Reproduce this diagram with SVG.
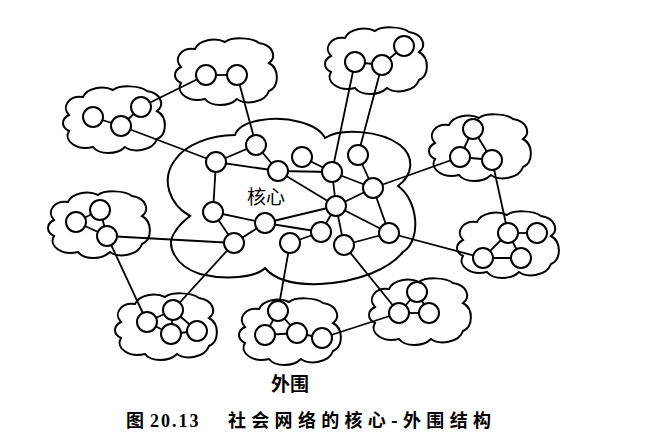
<svg xmlns="http://www.w3.org/2000/svg" xmlns:xlink="http://www.w3.org/1999/xlink" width="663" height="446" viewBox="0 0 663 446">
<style>
.cl{fill:none;stroke:#000;stroke-width:2}
.ed line{stroke:#000;stroke-width:1.8}
.nd{fill:#fff;stroke:#000;stroke-width:2}
.lb{font-family:"Noto Sans CJK SC","Noto Sans",sans-serif;font-size:19px;fill:#000;text-anchor:middle}
.cap{font-family:"Noto Sans CJK SC","Noto Sans",sans-serif;font-size:18px;font-weight:700;fill:#000}
</style>
<defs>
<path id="cloud" d="M 8,30 C 0,22 8,10 22,12 C 26,3 42,0 52,5 C 58,0 78,0 86,6 C 100,8 104,20 96,26 C 107,32 106,50 96,54 C 92,66 72,68 64,62 C 56,70 38,70 32,62 C 16,66 2,56 8,46 C 0,42 0,34 8,30 Z"/>
</defs>
<rect width="663" height="446" fill="#fff"/>
<g id="clouds">
<path id="core" class="cl" d="M 235,135 C 240,120 275,115 300,122 C 315,126 322,132 325,138 C 340,128 380,130 400,145 C 415,157 413,175 398,186 C 418,200 422,240 403,252 C 390,268 360,282 320,284 C 295,285 275,280 265,268 C 255,278 225,280 200,274 C 175,266 165,245 175,232 C 178,226 185,220 190,216 C 170,205 160,180 175,160 C 185,145 210,135 235,135 Z"/>
<use id="cloudA" class="cl" href="#cloud" transform="translate(61,85)"/>
<use id="cloudB" class="cl" href="#cloud" transform="translate(173,37)"/>
<use id="cloudT" class="cl" href="#cloud" transform="translate(323,26)"/>
<use id="cloudC" class="cl" href="#cloud" transform="translate(427,113)"/>
<use id="cloudD" class="cl" href="#cloud" transform="translate(455,210)"/>
<use id="cloudE" class="cl" href="#cloud" transform="translate(46,190)"/>
<use id="cloudF" class="cl" href="#cloud" transform="translate(113,292)"/>
<use id="cloudG" class="cl" href="#cloud" transform="translate(237,297)"/>
<use id="cloudH" class="cl" href="#cloud" transform="translate(367,277)"/>
</g>
<g id="connectors" class="ed">
<line x1="216" y1="162" x2="256" y2="145"/>
<line x1="216" y1="162" x2="278" y2="171"/>
<line x1="256" y1="145" x2="278" y2="171"/>
<line x1="302" y1="157" x2="332" y2="172"/>
<line x1="278" y1="171" x2="332" y2="172"/>
<line x1="278" y1="171" x2="336" y2="206"/>
<line x1="332" y1="172" x2="373" y2="188"/>
<line x1="358" y1="155" x2="373" y2="188"/>
<line x1="332" y1="172" x2="336" y2="206"/>
<line x1="373" y1="188" x2="336" y2="206"/>
<line x1="373" y1="188" x2="389" y2="233"/>
<line x1="336" y1="206" x2="389" y2="233"/>
<line x1="336" y1="206" x2="321" y2="232"/>
<line x1="336" y1="206" x2="344" y2="245"/>
<line x1="336" y1="206" x2="265" y2="223"/>
<line x1="344" y1="245" x2="389" y2="233"/>
<line x1="265" y1="223" x2="321" y2="232"/>
<line x1="290" y1="243" x2="321" y2="232"/>
<line x1="216" y1="162" x2="213" y2="212"/>
<line x1="213" y1="212" x2="265" y2="223"/>
<line x1="213" y1="212" x2="234" y2="243"/>
<line x1="234" y1="243" x2="265" y2="223"/>
<line x1="93" y1="117" x2="121" y2="126"/>
<line x1="121" y1="126" x2="141" y2="107"/>
<line x1="141" y1="107" x2="206" y2="75"/>
<line x1="121" y1="126" x2="216" y2="162"/>
<line x1="206" y1="75" x2="237" y2="75"/>
<line x1="237" y1="75" x2="256" y2="145"/>
<line x1="355" y1="62" x2="382" y2="65"/>
<line x1="382" y1="65" x2="404" y2="46"/>
<line x1="355" y1="62" x2="332" y2="172"/>
<line x1="382" y1="65" x2="358" y2="155"/>
<line x1="473" y1="129" x2="460" y2="157"/>
<line x1="473" y1="129" x2="492" y2="160"/>
<line x1="460" y1="157" x2="492" y2="160"/>
<line x1="460" y1="157" x2="373" y2="188"/>
<line x1="492" y1="160" x2="508" y2="233"/>
<line x1="508" y1="233" x2="537" y2="233"/>
<line x1="508" y1="233" x2="483" y2="258"/>
<line x1="508" y1="233" x2="521" y2="258"/>
<line x1="483" y1="258" x2="521" y2="258"/>
<line x1="483" y1="258" x2="389" y2="233"/>
<line x1="76" y1="222" x2="107" y2="236"/>
<line x1="100" y1="210" x2="107" y2="236"/>
<line x1="76" y1="222" x2="100" y2="210"/>
<line x1="107" y1="236" x2="234" y2="243"/>
<line x1="107" y1="236" x2="147" y2="322"/>
<line x1="147" y1="322" x2="173" y2="310"/>
<line x1="147" y1="322" x2="171" y2="334"/>
<line x1="173" y1="310" x2="171" y2="334"/>
<line x1="173" y1="310" x2="197" y2="331"/>
<line x1="171" y1="334" x2="197" y2="331"/>
<line x1="173" y1="310" x2="234" y2="243"/>
<line x1="278" y1="311" x2="265" y2="335"/>
<line x1="278" y1="311" x2="297" y2="333"/>
<line x1="265" y1="335" x2="297" y2="333"/>
<line x1="297" y1="333" x2="322" y2="338"/>
<line x1="278" y1="311" x2="290" y2="243"/>
<line x1="322" y1="338" x2="399" y2="313"/>
<line x1="417" y1="292" x2="399" y2="313"/>
<line x1="417" y1="292" x2="429" y2="313"/>
<line x1="399" y1="313" x2="429" y2="313"/>
<line x1="399" y1="313" x2="344" y2="245"/>
</g>
<g id="core-nodes">
<circle id="n1" class="nd" cx="216" cy="162" r="10"/>
<circle id="n2" class="nd" cx="256" cy="145" r="10"/>
<circle id="n3" class="nd" cx="278" cy="171" r="10"/>
<circle id="n4" class="nd" cx="302" cy="157" r="10"/>
<circle id="n5" class="nd" cx="332" cy="172" r="10"/>
<circle id="n6" class="nd" cx="358" cy="155" r="10"/>
<circle id="n7" class="nd" cx="373" cy="188" r="10"/>
<circle id="n8" class="nd" cx="336" cy="206" r="10"/>
<circle id="n9" class="nd" cx="213" cy="212" r="10"/>
<circle id="n10" class="nd" cx="265" cy="223" r="10"/>
<circle id="n11" class="nd" cx="234" cy="243" r="10"/>
<circle id="n12" class="nd" cx="290" cy="243" r="10"/>
<circle id="n13" class="nd" cx="321" cy="232" r="10"/>
<circle id="n14" class="nd" cx="344" cy="245" r="10"/>
<circle id="n15" class="nd" cx="389" cy="233" r="10"/>
</g>
<g id="peri-nodes">
<circle id="a1" class="nd" cx="93" cy="117" r="10"/>
<circle id="a2" class="nd" cx="121" cy="126" r="10"/>
<circle id="a3" class="nd" cx="141" cy="107" r="10"/>
<circle id="b1" class="nd" cx="206" cy="75" r="10"/>
<circle id="b2" class="nd" cx="237" cy="75" r="10"/>
<circle id="t1" class="nd" cx="355" cy="62" r="10"/>
<circle id="t2" class="nd" cx="382" cy="65" r="10"/>
<circle id="t3" class="nd" cx="404" cy="46" r="10"/>
<circle id="c1" class="nd" cx="473" cy="129" r="10"/>
<circle id="c2" class="nd" cx="460" cy="157" r="10"/>
<circle id="c3" class="nd" cx="492" cy="160" r="10"/>
<circle id="d1" class="nd" cx="508" cy="233" r="10"/>
<circle id="d2" class="nd" cx="537" cy="233" r="10"/>
<circle id="d3" class="nd" cx="483" cy="258" r="10"/>
<circle id="d4" class="nd" cx="521" cy="258" r="10"/>
<circle id="e1" class="nd" cx="100" cy="210" r="10"/>
<circle id="e2" class="nd" cx="76" cy="222" r="10"/>
<circle id="e3" class="nd" cx="107" cy="236" r="10"/>
<circle id="f1" class="nd" cx="147" cy="322" r="10"/>
<circle id="f2" class="nd" cx="173" cy="310" r="10"/>
<circle id="f3" class="nd" cx="171" cy="334" r="10"/>
<circle id="f4" class="nd" cx="197" cy="331" r="10"/>
<circle id="g1" class="nd" cx="278" cy="311" r="10"/>
<circle id="g2" class="nd" cx="265" cy="335" r="10"/>
<circle id="g3" class="nd" cx="297" cy="333" r="10"/>
<circle id="g4" class="nd" cx="322" cy="338" r="10"/>
<circle id="h1" class="nd" cx="417" cy="292" r="10"/>
<circle id="h2" class="nd" cx="399" cy="313" r="10"/>
<circle id="h3" class="nd" cx="429" cy="313" r="10"/>
</g>
<g id="labels">
<text class="lb" x="266" y="204">核心</text>
<text class="lb" x="290" y="391" font-weight="700">外围</text>
<text class="cap" y="427"><tspan x="126">图</tspan><tspan x="150" font-family="'Liberation Serif',serif" letter-spacing="2">20.13</tspan><tspan x="228" letter-spacing="5.3">社会网络的核心-外围结构</tspan></text>
</g>
</svg>
